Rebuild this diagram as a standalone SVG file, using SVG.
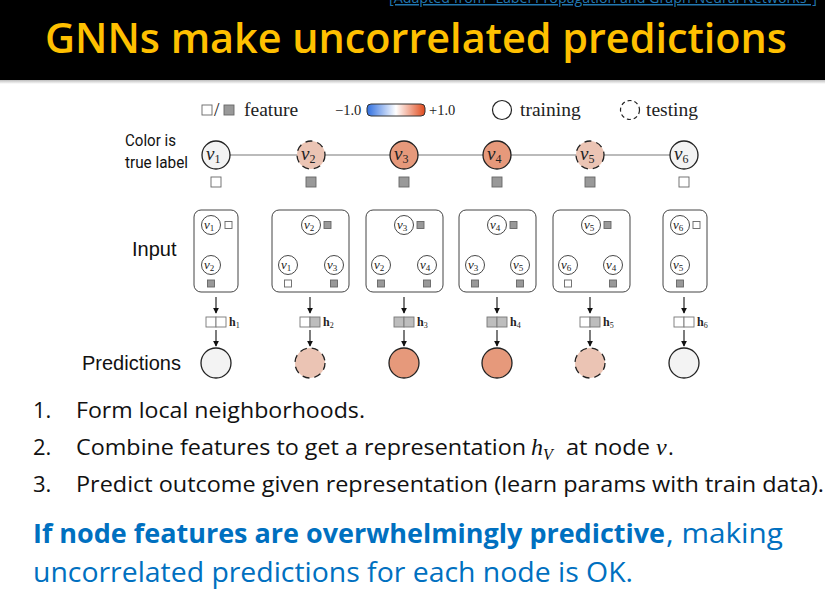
<svg xmlns="http://www.w3.org/2000/svg" width="825" height="594" viewBox="0 0 825 594">
<defs>
<linearGradient id="cbar" x1="0" y1="0" x2="1" y2="0">
<stop offset="0" stop-color="#2f6fe0"/>
<stop offset="0.5" stop-color="#ffffff"/>
<stop offset="1" stop-color="#e04a1c"/>
</linearGradient>
<linearGradient id="sep" x1="0" y1="0" x2="0" y2="1">
<stop offset="0" stop-color="#bdbdbd"/>
<stop offset="1" stop-color="#ffffff"/>
</linearGradient>
<marker id="arr" viewBox="0 0 8 8" refX="7" refY="4" markerWidth="6" markerHeight="6" orient="auto" markerUnits="userSpaceOnUse">
<path d="M0,0 L8,4 L0,8 z" fill="#111"/>
</marker>
</defs>
<style>
.title{font-family:"Open Sans","Liberation Sans",sans-serif;font-size:41px;font-weight:600;fill:#FFC000}
.link{font-family:"Open Sans","Liberation Sans",sans-serif;font-size:15px;fill:#2277b0;text-decoration:underline}
.serif{font-family:"Liberation Serif","DejaVu Serif",serif;font-size:19.5px;fill:#222}
.small{font-family:"Liberation Serif","DejaVu Serif",serif;font-size:14.5px;fill:#222}
.lbl{font-family:Roboto,"Liberation Sans",sans-serif;font-size:17px;fill:#111}
.big{font-family:"Liberation Sans",Arial,sans-serif;font-size:20px;fill:#111}
.vm{font-family:"Liberation Serif","DejaVu Serif",serif;font-style:italic;fill:#222}
.sub{font-family:"Liberation Serif","DejaVu Serif",serif;font-style:normal}
.hl{font-family:"Liberation Serif","DejaVu Serif",serif;font-weight:bold;font-size:12px;fill:#222}
.body{font-family:"Open Sans","Liberation Sans",sans-serif;font-size:22px;fill:#111}
.math{font-family:"Liberation Serif","DejaVu Serif",serif;font-style:italic;font-size:24px;fill:#111}
.blue{font-family:"Open Sans","Liberation Sans",sans-serif;font-size:27px;fill:#0070C0}
.node{stroke:#222;stroke-width:1.3}
.test{stroke:#222;stroke-width:1.3;stroke-dasharray:7 5}
.inner{fill:#fff;stroke:#333;stroke-width:0.9}
.box{fill:#fff;stroke:#444;stroke-width:1}
.sqw{fill:#fff;stroke:#666;stroke-width:0.9}
.sqg{fill:#999;stroke:#666;stroke-width:0.9}
.cw{fill:#fff;stroke:#777;stroke-width:0.9}
.cg{fill:#bdbdbd;stroke:#777;stroke-width:0.9}
.edge{stroke:#bbb;stroke-width:2}
.iedge{stroke:#aaa;stroke-width:1.1}
.arrow{stroke:#111;stroke-width:1.1;marker-end:url(#arr)}
.light{fill:#f3f3f3}
.pale{fill:#ebc4b4}
.hot{fill:#e6997b}
</style>

<!-- header -->
<rect x="0" y="0" width="825" height="80" fill="#000"/>
<rect x="0" y="80" width="825" height="4" fill="url(#sep)"/>
<text class="link" x="389" y="3" textLength="428" lengthAdjust="spacingAndGlyphs">[Adapted from "Label Propagation and Graph Neural Networks"]</text>
<text class="title" x="45" y="53" textLength="742" lengthAdjust="spacingAndGlyphs">GNNs make uncorrelated predictions</text>

<!-- legend -->
<g id="legend">
<rect class="sqw" x="202" y="105" width="10" height="10"/>
<text class="serif" x="214" y="116">/</text>
<rect class="sqg" x="224" y="105" width="10" height="10"/>
<text class="serif" x="244" y="116">feature</text>
<text class="small" x="335" y="115">−1.0</text>
<rect x="367" y="104" width="58" height="12" rx="4" fill="url(#cbar)" stroke="#333" stroke-width="1"/>
<text class="small" x="429" y="115">+1.0</text>
<circle cx="502" cy="110" r="9.5" fill="#fff" stroke="#222" stroke-width="1.2"/>
<text class="serif" x="520" y="116">training</text>
<circle cx="630" cy="110" r="9.5" fill="#fff" stroke="#222" stroke-width="1.2" stroke-dasharray="4 3"/>
<text class="serif" x="646" y="116">testing</text>
</g>

<!-- left labels -->
<text class="lbl" x="125" y="146" textLength="51" lengthAdjust="spacingAndGlyphs">Color is</text>
<text class="lbl" x="125" y="168" textLength="63" lengthAdjust="spacingAndGlyphs">true label</text>
<text class="big" x="132" y="256">Input</text>
<text class="big" x="82" y="370">Predictions</text>

<!-- connectors -->
<g id="connectors">
<line class="edge" x1="230" y1="155" x2="297" y2="155"/>
<line class="edge" x1="325" y1="155" x2="390" y2="155"/>
<line class="edge" x1="418" y1="155" x2="483" y2="155"/>
<line class="edge" x1="511" y1="155" x2="576" y2="155"/>
<line class="edge" x1="604" y1="155" x2="670" y2="155"/>
<!-- box inner edges -->
<line class="iedge" x1="211" y1="234" x2="211" y2="256"/>
<line class="iedge" x1="306" y1="233" x2="293" y2="257"/>
<line class="iedge" x1="317" y1="233" x2="329" y2="257"/>
<line class="iedge" x1="399" y1="233" x2="386" y2="257"/>
<line class="iedge" x1="410" y1="233" x2="422" y2="257"/>
<line class="iedge" x1="492" y1="233" x2="479" y2="257"/>
<line class="iedge" x1="503" y1="233" x2="515" y2="257"/>
<line class="iedge" x1="586" y1="233" x2="573" y2="257"/>
<line class="iedge" x1="597" y1="233" x2="609" y2="257"/>
<line class="iedge" x1="680" y1="234" x2="680" y2="256"/>
<!-- arrows -->
<line class="arrow" x1="216" y1="297" x2="216" y2="313"/>
<line class="arrow" x1="310" y1="297" x2="310" y2="313"/>
<line class="arrow" x1="404" y1="297" x2="404" y2="313"/>
<line class="arrow" x1="497" y1="297" x2="497" y2="313"/>
<line class="arrow" x1="590" y1="297" x2="590" y2="313"/>
<line class="arrow" x1="684" y1="297" x2="684" y2="313"/>
<line class="arrow" x1="216" y1="330" x2="216" y2="346"/>
<line class="arrow" x1="310" y1="330" x2="310" y2="346"/>
<line class="arrow" x1="404" y1="330" x2="404" y2="346"/>
<line class="arrow" x1="497" y1="330" x2="497" y2="346"/>
<line class="arrow" x1="590" y1="330" x2="590" y2="346"/>
<line class="arrow" x1="684" y1="330" x2="684" y2="346"/>
</g>

<!-- main graph nodes -->
<g id="v1">
<circle class="node light" cx="216" cy="155" r="14"/>
<text class="vm" x="206" y="160" font-size="19">v<tspan class="sub" font-size="12" dy="3">1</tspan></text>
<rect class="sqw" x="211" y="177" width="10" height="10"/>
</g>
<g id="v2">
<circle class="test pale" cx="311" cy="155" r="14"/>
<text class="vm" x="301" y="160" font-size="19">v<tspan class="sub" font-size="12" dy="3">2</tspan></text>
<rect class="sqg" x="306" y="177" width="10" height="10"/>
</g>
<g id="v3">
<circle class="node hot" cx="404" cy="155" r="14"/>
<text class="vm" x="394" y="160" font-size="19">v<tspan class="sub" font-size="12" dy="3">3</tspan></text>
<rect class="sqg" x="399" y="177" width="10" height="10"/>
</g>
<g id="v4">
<circle class="node hot" cx="497" cy="155" r="14"/>
<text class="vm" x="487" y="160" font-size="19">v<tspan class="sub" font-size="12" dy="3">4</tspan></text>
<rect class="sqg" x="492" y="177" width="10" height="10"/>
</g>
<g id="v5">
<circle class="test pale" cx="590" cy="155" r="14"/>
<text class="vm" x="580" y="160" font-size="19">v<tspan class="sub" font-size="12" dy="3">5</tspan></text>
<rect class="sqg" x="585" y="177" width="10" height="10"/>
</g>
<g id="v6">
<circle class="node light" cx="684" cy="155" r="14"/>
<text class="vm" x="674" y="160" font-size="19">v<tspan class="sub" font-size="12" dy="3">6</tspan></text>
<rect class="sqw" x="679" y="177" width="10" height="10"/>
</g>

<!-- input neighborhoods -->
<g id="input1">
<rect class="box" x="194" y="210" width="44" height="82" rx="7"/>
<circle class="inner" cx="211" cy="225" r="9.5"/>
<text class="vm" x="204" y="229" font-size="13">v<tspan class="sub" font-size="9" dy="2">1</tspan></text>
<rect class="sqw" x="225" y="221.5" width="7" height="7"/>
<circle class="inner" cx="211" cy="265" r="9.5"/>
<text class="vm" x="204" y="269" font-size="13">v<tspan class="sub" font-size="9" dy="2">2</tspan></text>
<rect class="sqg" x="207.5" y="280" width="7" height="7"/>
</g>
<g id="input2">
<rect class="box" x="272" y="210" width="77" height="82" rx="7"/>
<circle class="inner" cx="311" cy="225" r="9.5"/>
<text class="vm" x="304" y="229" font-size="13">v<tspan class="sub" font-size="9" dy="2">2</tspan></text>
<rect class="sqg" x="324" y="221.5" width="7" height="7"/>
<circle class="inner" cx="288" cy="265" r="9.5"/>
<text class="vm" x="281" y="269" font-size="13">v<tspan class="sub" font-size="9" dy="2">1</tspan></text>
<circle class="inner" cx="334" cy="265" r="9.5"/>
<text class="vm" x="327" y="269" font-size="13">v<tspan class="sub" font-size="9" dy="2">3</tspan></text>
<rect class="sqw" x="284.5" y="280" width="7" height="7"/>
<rect class="sqg" x="330.5" y="280" width="7" height="7"/>
</g>
<g id="input3">
<rect class="box" x="366" y="210" width="77" height="82" rx="7"/>
<circle class="inner" cx="404" cy="225" r="9.5"/>
<text class="vm" x="397" y="229" font-size="13">v<tspan class="sub" font-size="9" dy="2">3</tspan></text>
<rect class="sqg" x="417" y="221.5" width="7" height="7"/>
<circle class="inner" cx="381" cy="265" r="9.5"/>
<text class="vm" x="374" y="269" font-size="13">v<tspan class="sub" font-size="9" dy="2">2</tspan></text>
<circle class="inner" cx="427" cy="265" r="9.5"/>
<text class="vm" x="420" y="269" font-size="13">v<tspan class="sub" font-size="9" dy="2">4</tspan></text>
<rect class="sqg" x="377.5" y="280" width="7" height="7"/>
<rect class="sqg" x="423.5" y="280" width="7" height="7"/>
</g>
<g id="input4">
<rect class="box" x="459" y="210" width="77" height="82" rx="7"/>
<circle class="inner" cx="497" cy="225" r="9.5"/>
<text class="vm" x="490" y="229" font-size="13">v<tspan class="sub" font-size="9" dy="2">4</tspan></text>
<rect class="sqg" x="510" y="221.5" width="7" height="7"/>
<circle class="inner" cx="475" cy="265" r="9.5"/>
<text class="vm" x="468" y="269" font-size="13">v<tspan class="sub" font-size="9" dy="2">3</tspan></text>
<circle class="inner" cx="520" cy="265" r="9.5"/>
<text class="vm" x="513" y="269" font-size="13">v<tspan class="sub" font-size="9" dy="2">5</tspan></text>
<rect class="sqg" x="471.5" y="280" width="7" height="7"/>
<rect class="sqg" x="516.5" y="280" width="7" height="7"/>
</g>
<g id="input5">
<rect class="box" x="553" y="210" width="77" height="82" rx="7"/>
<circle class="inner" cx="591" cy="225" r="9.5"/>
<text class="vm" x="584" y="229" font-size="13">v<tspan class="sub" font-size="9" dy="2">5</tspan></text>
<rect class="sqg" x="604" y="221.5" width="7" height="7"/>
<circle class="inner" cx="568" cy="265" r="9.5"/>
<text class="vm" x="561" y="269" font-size="13">v<tspan class="sub" font-size="9" dy="2">6</tspan></text>
<circle class="inner" cx="613" cy="265" r="9.5"/>
<text class="vm" x="606" y="269" font-size="13">v<tspan class="sub" font-size="9" dy="2">4</tspan></text>
<rect class="sqw" x="564.5" y="280" width="7" height="7"/>
<rect class="sqg" x="609.5" y="280" width="7" height="7"/>
</g>
<g id="input6">
<rect class="box" x="663" y="210" width="44" height="82" rx="7"/>
<circle class="inner" cx="680" cy="225" r="9.5"/>
<text class="vm" x="673" y="229" font-size="13">v<tspan class="sub" font-size="9" dy="2">6</tspan></text>
<rect class="sqw" x="693" y="221.5" width="7" height="7"/>
<circle class="inner" cx="680" cy="265" r="9.5"/>
<text class="vm" x="673" y="269" font-size="13">v<tspan class="sub" font-size="9" dy="2">5</tspan></text>
<rect class="sqg" x="676.5" y="280" width="7" height="7"/>
</g>

<!-- hidden representations -->
<g id="h1">
<rect class="cw" x="206" y="317" width="10" height="10"/><rect class="cw" x="216" y="317" width="10" height="10"/>
<text class="hl" x="229" y="326">h<tspan font-size="8" font-weight="normal" dy="2">1</tspan></text>
</g>
<g id="h2">
<rect class="cw" x="300" y="317" width="10" height="10"/><rect class="cg" x="310" y="317" width="10" height="10"/>
<text class="hl" x="323" y="326">h<tspan font-size="8" font-weight="normal" dy="2">2</tspan></text>
</g>
<g id="h3">
<rect class="cg" x="394" y="317" width="10" height="10"/><rect class="cg" x="404" y="317" width="10" height="10"/>
<text class="hl" x="417" y="326">h<tspan font-size="8" font-weight="normal" dy="2">3</tspan></text>
</g>
<g id="h4">
<rect class="cg" x="487" y="317" width="10" height="10"/><rect class="cg" x="497" y="317" width="10" height="10"/>
<text class="hl" x="510" y="326">h<tspan font-size="8" font-weight="normal" dy="2">4</tspan></text>
</g>
<g id="h5">
<rect class="cw" x="580" y="317" width="10" height="10"/><rect class="cg" x="590" y="317" width="10" height="10"/>
<text class="hl" x="603" y="326">h<tspan font-size="8" font-weight="normal" dy="2">5</tspan></text>
</g>
<g id="h6">
<rect class="cw" x="674" y="317" width="10" height="10"/><rect class="cw" x="684" y="317" width="10" height="10"/>
<text class="hl" x="697" y="326">h<tspan font-size="8" font-weight="normal" dy="2">6</tspan></text>
</g>

<!-- predictions -->
<g id="p1"><circle class="node light" cx="216" cy="363" r="15"/></g>
<g id="p2"><circle class="test pale" cx="310" cy="363" r="15"/></g>
<g id="p3"><circle class="node hot" cx="404" cy="363" r="15"/></g>
<g id="p4"><circle class="node hot" cx="497" cy="363" r="15"/></g>
<g id="p5"><circle class="test pale" cx="590" cy="363" r="15"/></g>
<g id="p6"><circle class="node light" cx="684" cy="363" r="15"/></g>

<!-- body text -->
<text class="body" x="33" y="418">1.</text>
<text class="body" x="76" y="418" textLength="289" lengthAdjust="spacingAndGlyphs">Form local neighborhoods.</text>
<text class="body" x="33" y="455">2.</text>
<text class="body" x="76" y="455" textLength="450" lengthAdjust="spacingAndGlyphs">Combine features to get a representation</text>
<text class="math" x="531" y="455">h<tspan font-size="16" dy="5">V</tspan></text>
<text class="body" x="566" y="455" textLength="84" lengthAdjust="spacingAndGlyphs">at node</text>
<text class="math" x="656" y="455">v</text>
<text class="body" x="668" y="455">.</text>
<text class="body" x="33" y="492">3.</text>
<text class="body" x="76" y="492" textLength="748" lengthAdjust="spacingAndGlyphs">Predict outcome given representation (learn params with train data).</text>
<text class="blue" x="33" y="543"><tspan font-weight="bold" textLength="632" lengthAdjust="spacingAndGlyphs">If node features are overwhelmingly predictive</tspan></text>
<text class="blue" x="666" y="543" textLength="117" lengthAdjust="spacingAndGlyphs">, making</text>
<text class="blue" x="33" y="582" textLength="600" lengthAdjust="spacingAndGlyphs">uncorrelated predictions for each node is OK.</text>
</svg>
